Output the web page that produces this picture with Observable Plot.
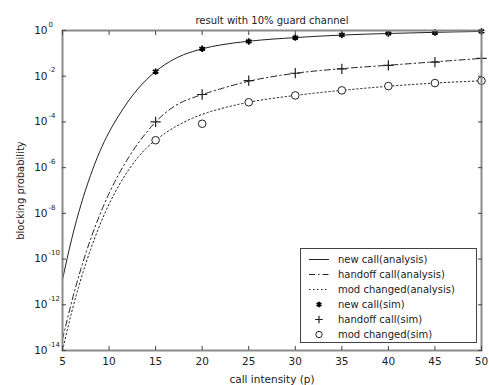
<!DOCTYPE html>
<html><head><meta charset="utf-8">
<script src="https://cdn.jsdelivr.net/npm/d3@7"></script>
<script src="https://cdn.jsdelivr.net/npm/@observablehq/plot@0.6"></script>
<style>
body{margin:0;background:#fff}
#wrap{position:relative;width:489px;height:385px;font-family:"DejaVu Sans",Verdana,sans-serif}
#legend{position:absolute;left:300px;top:248px;width:175px;height:93px;border:1.5px solid #444;background:#fff;font-size:10px;color:#222}
#legend .row{position:absolute;left:0;height:15px;line-height:15px;white-space:nowrap}
#legend svg{position:absolute;left:4px;top:0}
#legend span{position:absolute;left:37px;top:0}
</style>
</head><body><div id="wrap"></div>
<script>
// ---- data (y values as log10 exponents) ----
const titleText = "result with 10% guard channel";
const xLabel = "call intensity (p)";
const yLabel = "blocking probability";
const xTicks = [5, 10, 15, 20, 25, 30, 35, 40, 45, 50];
const yExps = [-14, -12, -10, -8, -6, -4, -2, 0];

const analysisX      = [5, 6, 7, 8, 9, 10, 11, 12, 13, 14, 15, 16, 17, 18, 19, 20, 22, 25, 30, 35, 40, 45, 50];
const newCallAnaLog  = [-10.9, -9.1, -7.6, -6.35, -5.3, -4.45, -3.75, -3.13, -2.6, -2.16, -1.79, -1.49, -1.25, -1.06, -0.92, -0.8, -0.63, -0.47, -0.31, -0.2, -0.13, -0.08, -0.04];
const handoffAnaLog  = [-13.5, -11.85, -10.4, -9.15, -8.07, -7.13, -6.32, -5.62, -5.0, -4.47, -4.0, -3.62, -3.32, -3.1, -2.94, -2.8, -2.55, -2.22, -1.87, -1.67, -1.52, -1.37, -1.22];
const modAnaLog      = [-14.0, -12.3, -10.85, -9.6, -8.52, -7.6, -6.82, -6.16, -5.6, -5.15, -4.8, -4.5, -4.24, -4.02, -3.83, -3.67, -3.42, -3.14, -2.84, -2.62, -2.44, -2.3, -2.2];

const simX           = [15, 20, 25, 30, 35, 40, 45, 50];
const newCallSimLog  = [-1.8, -0.8, -0.48, -0.31, -0.19, -0.13, -0.09, -0.04];
const handoffSimLog  = [-4.0, -2.8, -2.19, -1.87, -1.68, -1.53, -1.38, -1.22];
const modSimLog      = [-4.8, -4.08, -3.14, -2.84, -2.62, -2.43, -2.3, -2.2];

const legendLabels = ["new call(analysis)", "handoff call(analysis)", "mod changed(analysis)", "new call(sim)", "handoff call(sim)", "mod changed(sim)"];

// ---- tables ----
const ana = (logs) => analysisX.map((x, i) => ({x, y: 10 ** logs[i]}));
const sim = (logs) => simX.map((x, i) => ({x, y: 10 ** logs[i]}));
const yTicks = yExps.map(e => 10 ** e);

const ink = "#222";
const chart = Plot.plot({
  width: 489, height: 385,
  marginLeft: 62, marginRight: 8, marginTop: 30, marginBottom: 35,
  style: {fontFamily: "DejaVu Sans, Verdana, sans-serif", fontSize: "10px", color: ink, background: "white"},
  x: {domain: [5, 50]},
  y: {type: "log", domain: [1e-14, 1]},
  marks: [
    Plot.line(ana(newCallAnaLog), {x: "x", y: "y", stroke: ink, strokeWidth: 1, curve: "monotone-x"}),
    Plot.line(ana(handoffAnaLog), {x: "x", y: "y", stroke: ink, strokeWidth: 1, strokeDasharray: "6,3,1.5,3", curve: "monotone-x"}),
    Plot.line(ana(modAnaLog), {x: "x", y: "y", stroke: ink, strokeWidth: 1, strokeDasharray: "1.5,2.5", curve: "monotone-x"}),
    Plot.dot(sim(newCallSimLog), {x: "x", y: "y", symbol: "asterisk", r: 3, stroke: "black", strokeWidth: 1.8}),
    Plot.dot(sim(handoffSimLog), {x: "x", y: "y", symbol: "plus", r: 3.4, stroke: ink, strokeWidth: 1.2}),
    Plot.dot(sim(modSimLog), {x: "x", y: "y", symbol: "circle", r: 3.8, stroke: ink, fill: "white", strokeWidth: 1}),
    Plot.frame({stroke: "#8a8a8a", strokeWidth: 2}),
    Plot.axisX({ticks: xTicks, tickSize: -4, tickPadding: 11, stroke: "#444", fontSize: 10.5,
      label: xLabel, labelAnchor: "center", labelArrow: "none", labelOffset: 32}),
    Plot.axisX({anchor: "top", ticks: xTicks, tickSize: -4, tickFormat: () => "", label: null, stroke: "#444"}),
    Plot.axisY({ticks: yTicks, tickSize: -4, tickFormat: () => "", stroke: "#444",
      label: yLabel, labelAnchor: "center", labelArrow: "none", labelOffset: 46}),
    Plot.axisY({anchor: "right", ticks: yTicks, tickSize: -4, tickFormat: () => "", label: null, stroke: "#444"}),
    Plot.text(yExps, {y: d => 10 ** d, frameAnchor: "left", text: () => "10", textAnchor: "end", dx: -15, fontSize: 10.5, fill: ink}),
    Plot.text(yExps, {y: d => 10 ** d, frameAnchor: "left", text: d => String(d), textAnchor: "start", dx: -14, dy: -6, fontSize: 7, fill: ink}),
    Plot.text([titleText], {frameAnchor: "top", dy: -14, fontSize: 10, fill: ink})
  ]
});
const wrap = document.getElementById("wrap");
wrap.appendChild(chart);

// ---- legend ----
const legend = document.createElement("div");
legend.id = "legend";
const samples = [
  `<line x1="4" x2="24" y1="7.5" y2="7.5" stroke="${ink}" stroke-width="1"/>`,
  `<line x1="4" x2="24" y1="7.5" y2="7.5" stroke="${ink}" stroke-width="1" stroke-dasharray="6,3,1.5,3"/>`,
  `<line x1="4" x2="24" y1="7.5" y2="7.5" stroke="${ink}" stroke-width="1" stroke-dasharray="1.5,2.5"/>`,
  `<path transform="translate(14,7.5)" d="${d3.symbol(d3.symbolAsterisk, Math.PI * 2.6 * 2.6)()}" stroke="black" stroke-width="1.8" fill="none"/>`,
  `<path transform="translate(14,7.5)" d="${d3.symbol(d3.symbolPlus, Math.PI * 2.6 * 2.6)()}" stroke="${ink}" stroke-width="1.2" fill="none"/>`,
  `<circle cx="14" cy="7.5" r="3.2" stroke="${ink}" fill="none"/>`
];
legendLabels.forEach((lab, i) => {
  const row = document.createElement("div");
  row.className = "row";
  row.style.top = (2.5 + i * 15) + "px";
  row.innerHTML = `<svg width="30" height="15">${samples[i]}</svg><span>${lab}</span>`;
  legend.appendChild(row);
});
wrap.appendChild(legend);
</script>
</body></html>
